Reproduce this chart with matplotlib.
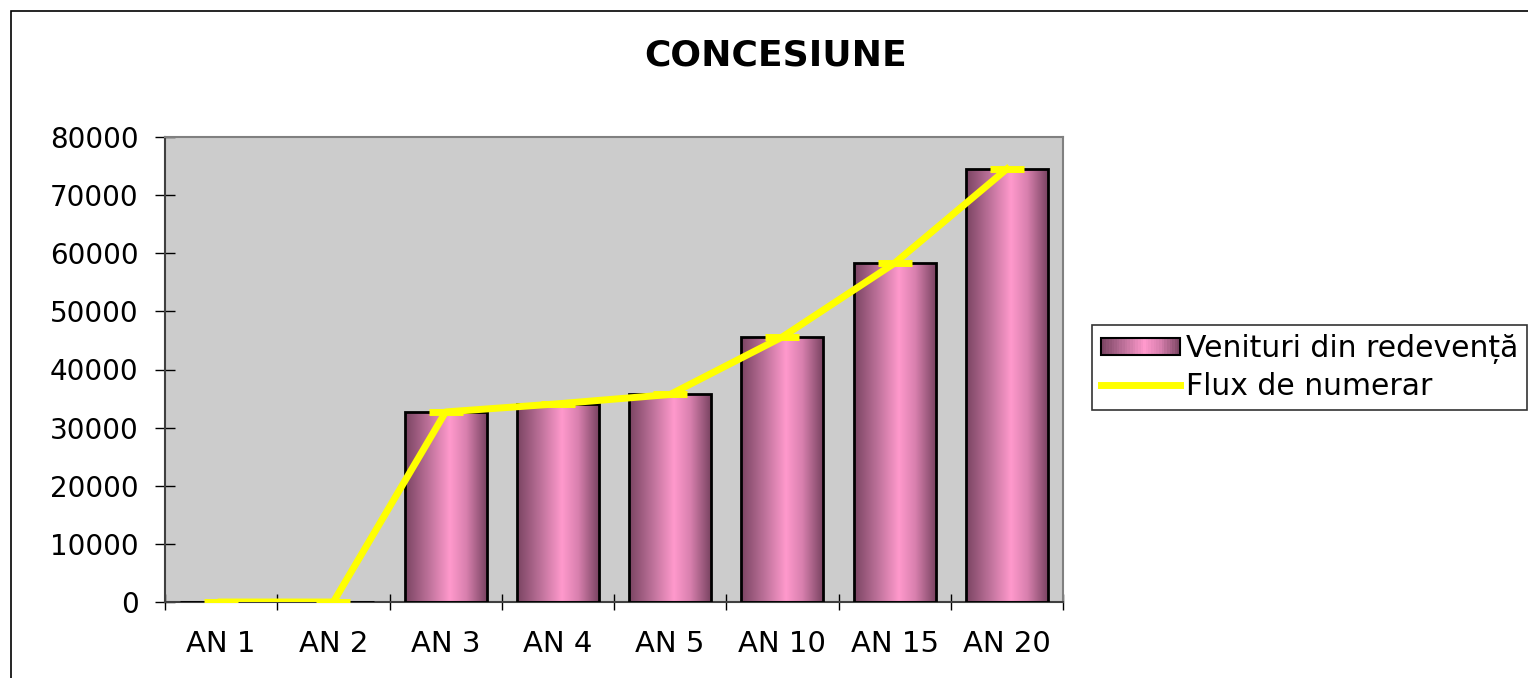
import numpy as np
import matplotlib
matplotlib.use("Agg")
import matplotlib.pyplot as plt
from matplotlib.colors import LinearSegmentedColormap
from matplotlib.patches import Rectangle
from matplotlib.lines import Line2D
from matplotlib.legend_handler import HandlerBase

plt.rcParams['font.family'] = ['DejaVu Sans']

# data
categories = ['AN 1', 'AN 2', 'AN 3', 'AN 4', 'AN 5', 'AN 10', 'AN 15', 'AN 20']
venituri = [0, 0, 32700, 34100, 35700, 45600, 58300, 74500]
flux = [0, 0, 32700, 34100, 35700, 45600, 58300, 74500]
y_ticks = [0, 10000, 20000, 30000, 40000, 50000, 60000, 70000, 80000]

# cylinder-like shading of the bars
bar_cmap = LinearSegmentedColormap.from_list(
    'bar', [(0.0, '#7a4462'), (0.3, '#c0739c'), (0.55, '#ff99cc'),
            (0.75, '#d880ae'), (1.0, '#7a4462')])
grad = np.linspace(0, 1, 256).reshape(1, -1)


class GradientHandler(HandlerBase):
    # legend box drawn with the same shading as the bars
    def create_artists(self, legend, orig_handle, xdescent, ydescent,
                       width, height, fontsize, trans):
        n = 30
        arts = []
        for i in range(n):
            r = Rectangle((-xdescent + width * i / n, -ydescent), width / n + 0.3, height,
                          facecolor=bar_cmap((i + 0.5) / n), edgecolor='none', transform=trans)
            arts.append(r)
        arts.append(Rectangle((-xdescent, -ydescent), width, height, facecolor='none',
                              edgecolor='black', lw=1.5, transform=trans))
        return arts


fig = plt.figure(figsize=(15.28, 6.78), dpi=100)
ax = fig.add_axes([165 / 1528, 76 / 678, 898 / 1528, 465 / 678])
ax.set_facecolor('#cccccc')

x = np.arange(len(categories))
bars = ax.bar(x, venituri, width=0.73, facecolor='none', edgecolor='black', lw=2, zorder=3)
for b, v in zip(bars, venituri):
    if v <= 0:
        continue
    im = ax.imshow(grad, cmap=bar_cmap, aspect='auto', zorder=2,
                   extent=[b.get_x(), b.get_x() + b.get_width(), 0, v])
    im.set_clip_path(b)

ax.plot(x, flux, color='#ffff00', lw=5, marker='_', ms=24, mew=5, zorder=4,
        solid_joinstyle='round')

ax.set_xlim(-0.5, len(categories) - 0.5)
ax.set_ylim(0, 80000)
ax.set_yticks(y_ticks)
ax.set_yticklabels([str(t) for t in y_ticks], fontsize=20)
ax.set_xticks(x)
ax.set_xticklabels(categories, fontsize=21)
ax.tick_params(axis='x', which='major', length=0, pad=20)
ax.set_xticks(np.arange(len(categories) + 1) - 0.5, minor=True)
ax.tick_params(axis='x', which='minor', direction='inout', length=12, width=1)
ax.tick_params(axis='y', direction='inout', length=14, width=1, pad=12)

for s in ['top', 'right']:
    ax.spines[s].set_color('#808080')
    ax.spines[s].set_linewidth(1.5)
for s in ['left', 'bottom']:
    ax.spines[s].set_color('#404040')
    ax.spines[s].set_linewidth(1.5)

fig.text(776 / 1528, 1 - 55 / 678, 'CONCESIUNE', ha='center', va='center',
         fontsize=26, fontweight='bold')

# outer chart frame (cut by the image edge on the right and bottom)
fig.patches.append(Rectangle((11 / 1528, -0.1), 1.2, 1 - 11 / 678 + 0.1,
                             transform=fig.transFigure, facecolor='none',
                             edgecolor='black', lw=1.2))

bar_handle = Rectangle((0, 0), 1, 1)
line_handle = Line2D([], [], color='#ffff00', lw=5)
leg = fig.legend([bar_handle, line_handle], ['Venituri din redevență', 'Flux de numerar'],
                 loc='upper left', bbox_to_anchor=(1092 / 1528, 1 - 325 / 678),
                 fontsize=21.5, frameon=True, fancybox=False, edgecolor='black',
                 handlelength=2.65, handleheight=0.5, handletextpad=0.2,
                 borderpad=0.3, labelspacing=0.27,
                 borderaxespad=0, handler_map={Rectangle: GradientHandler()})
leg.get_frame().set_linewidth(1.2)

fig.savefig('out.png', dpi=100)
